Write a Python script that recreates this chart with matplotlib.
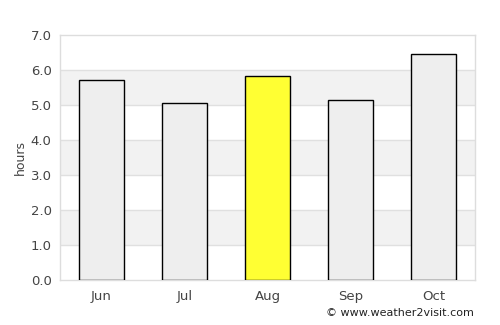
import numpy as np
import matplotlib.pyplot as plt

# Monthly sunshine hours
months = ['Jun', 'Jul', 'Aug', 'Sep', 'Oct']
hours = [5.71, 5.05, 5.82, 5.13, 6.45]
highlight = 'Aug'

fig = plt.figure(figsize=(5, 3.25), dpi=100)
ax = fig.add_axes([0.12, 0.1385, 0.83, 0.7538])

# alternating horizontal bands
for lo in [1, 3, 5]:
    ax.axhspan(lo, lo + 1, color='#f2f2f2', zorder=0, lw=0)
for y in range(1, 7):
    ax.axhline(y, color='#e0e0e0', lw=1, zorder=1)

x = np.arange(len(months))
colors = ['#ffff33' if m == highlight else '#eeeeee' for m in months]
ax.bar(x, hours, width=0.55, color=colors, edgecolor='black', linewidth=1, zorder=3)

ax.set_xlim(-0.5, len(months) - 0.5)
ax.set_ylim(0, 7)
ax.set_yticks(np.arange(0, 8, 1))
ax.set_yticklabels([f'{v:.1f}' for v in range(8)])
ax.set_xticks(x)
ax.set_xticklabels(months)
ax.tick_params(length=0, labelsize=9.5, colors='#444444')
ax.tick_params(axis='y', pad=6)
ax.tick_params(axis='x', pad=7)
for s in ax.spines.values():
    s.set_color('#dddddd')
    s.set_linewidth(1)
ax.set_ylabel('hours', fontsize=9, color='#444444', labelpad=3)

fig.text(0.948, 0.02, '\u00a9 www.weather2visit.com', ha='right', va='bottom',
         fontsize=8, color='#222222')

fig.savefig('out.png', dpi=100)
